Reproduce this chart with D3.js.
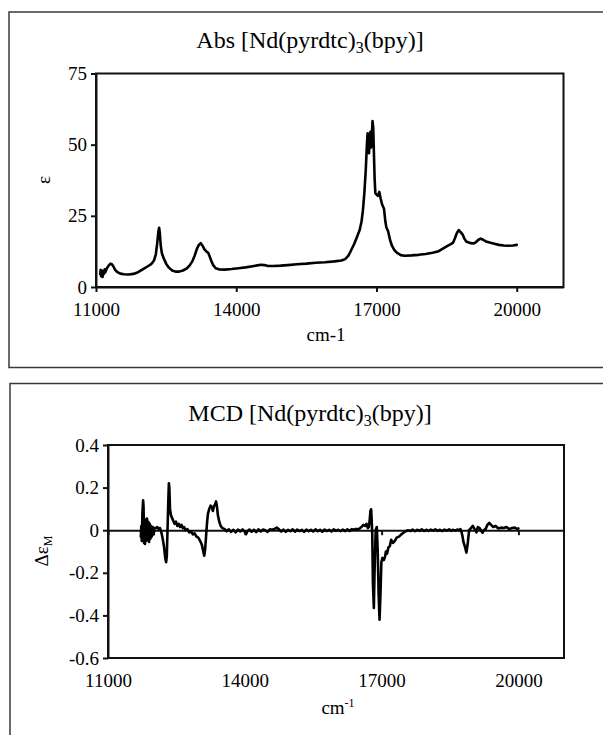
<!DOCTYPE html>
<html>
<head>
<meta charset="utf-8">
<script src="https://cdn.jsdelivr.net/npm/d3@7"></script>
<style>
  html, body { margin: 0; padding: 0; background: #fff; }
  svg { display: block; }
</style>
</head>
<body>
<svg id="chart" width="603" height="735"></svg>
<script>
// ---------- data ----------
const xTicks = [11000, 14000, 17000, 20000];
const absYTicks = [0, 25, 50, 75];
const mcdYTicks = [0.4, 0.2, 0, -0.2, -0.4, -0.6];

const absWn = [11090,11100,11110,11125,11140,11155,11170,11185,11200,11230,11270,11310,11340,11370,11410,11460,11520,11600,11700,11800,11900,12000,12100,12180,12240,12280,12310,12335,12350,12365,12385,12410,12450,12500,12560,12630,12700,12780,12860,12940,13000,13060,13110,13160,13200,13240,13280,13320,13360,13400,13430,13470,13510,13560,13630,13750,13900,14050,14200,14350,14450,14530,14600,14680,14800,14950,15100,15300,15500,15700,15900,16100,16250,16330,16400,16460,16520,16580,16640,16680,16710,16740,16770,16795,16810,16825,16840,16855,16870,16885,16900,16915,16930,16945,16960,16975,17000,17030,17060,17090,17120,17160,17190,17210,17250,17290,17330,17380,17440,17520,17600,17750,17900,18050,18200,18330,18420,18500,18580,18640,18680,18720,18760,18800,18840,18880,18920,18960,19020,19080,19130,19180,19230,19280,19340,19420,19520,19620,19720,19820,19920,20000];
const absEps = [4.5,6.0,3.8,5.8,3.5,5.5,4.6,6.2,5.2,6.5,7.5,8.2,8.0,7.3,6.0,5.2,4.7,4.5,4.4,4.6,5.2,6.2,7.2,8.0,9.3,11.5,15.5,19.5,20.8,19.0,14.5,11.8,10.0,8.2,6.8,5.8,5.4,5.4,5.8,6.5,7.5,9.0,11.0,13.5,14.8,15.4,14.5,13.2,12.5,12.0,10.8,9.0,7.6,6.6,6.2,6.1,6.3,6.6,6.9,7.3,7.6,7.8,7.7,7.4,7.4,7.5,7.7,8.0,8.2,8.5,8.7,9.0,9.3,9.8,11.0,13.0,15.0,17.5,20.0,23.0,27.0,33.0,41.0,50.0,54.0,50.0,47.0,52.0,54.5,49.0,53.0,58.3,56.0,47.0,38.0,33.0,32.5,32.0,33.4,31.0,29.0,27.5,23.0,21.0,19.5,16.5,14.5,13.0,12.0,11.2,11.0,11.1,11.3,11.6,12.0,12.6,13.5,14.3,15.0,15.6,17.2,19.0,20.0,19.3,18.5,17.0,16.0,15.7,15.4,15.3,15.8,16.6,17.0,16.6,16.0,15.6,15.2,14.8,14.6,14.5,14.6,14.8];

const mcdWn = [11720,11730,11740,11755,11770,11780,11790,11800,11810,11825,11840,11855,11870,11885,11900,11915,11930,11945,11960,11980,12000,12020,12050,12080,12110,12140,12170,12200,12230,12255,12275,12290,12305,12320,12335,12345,12360,12380,12400,12430,12460,12490,12520,12550,12580,12610,12640,12670,12700,12740,12780,12820,12860,12900,12940,12980,13020,13060,13090,13110,13130,13150,13170,13190,13220,13250,13275,13300,13320,13345,13370,13390,13410,13440,13470,13510,13560,13600,13650,13700,13750,13800,13850,13900,13950,14000,14030,14060,14100,14150,14200,14250,14300,14350,14400,14450,14500,14550,14600,14650,14700,14750,14800,14850,14900,14950,15000,15050,15100,15150,15200,15250,15300,15350,15400,15450,15500,15550,15600,15650,15700,15750,15800,15850,15900,15950,16000,16050,16100,16150,16200,16250,16300,16350,16400,16440,16480,16530,16560,16600,16640,16670,16700,16720,16740,16755,16770,16782,16795,16810,16830,16845,16870,16895,16915,16935,16955,16975,16995,17020,17050,17075,17095,17120,17150,17180,17210,17250,17290,17330,17380,17430,17480,17530,17580,17630,17680,17730,17780,17830,17880,17930,17980,18030,18080,18130,18180,18230,18280,18330,18380,18430,18480,18520,18560,18620,18660,18700,18730,18755,18775,18795,18830,18860,18890,18920,18960,19000,19040,19080,19110,19150,19190,19215,19240,19280,19320,19360,19400,19450,19500,19560,19620,19680,19740,19800,19860,19920,19980,20000];
const mcdDe = [-0.03,0.02,-0.05,0.08,0.14,0.11,-0.06,0.04,-0.065,0.05,-0.05,0.055,-0.04,0.04,-0.055,0.03,-0.04,0.02,-0.03,0.015,-0.02,0.01,0.01,0.015,0.005,0.01,-0.01,-0.04,-0.08,-0.13,-0.15,-0.12,0.0,0.12,0.22,0.2,0.1,0.07,0.06,0.045,0.03,0.04,0.02,0.03,0.015,0.025,0.01,0.015,0.0,0.005,-0.01,-0.005,-0.02,-0.015,-0.03,-0.035,-0.05,-0.07,-0.1,-0.12,-0.09,-0.03,0.03,0.075,0.1,0.115,0.11,0.09,0.11,0.12,0.135,0.11,0.07,0.04,0.02,0.01,0.005,-0.005,0.004,-0.008,0.002,-0.01,0.003,-0.006,0.004,-0.008,-0.018,-0.004,0.003,-0.007,0.002,-0.009,0.004,-0.006,0.003,0.0,-0.008,0.004,0.002,0.006,0.012,0.004,-0.006,0.003,-0.008,0.002,-0.005,0.004,-0.007,0.003,-0.004,0.002,-0.008,0.003,-0.005,0.002,-0.006,0.004,-0.005,0.002,-0.007,0.003,-0.004,0.002,-0.006,0.004,-0.003,0.002,-0.005,0.003,-0.004,0.004,-0.003,0.005,0.002,0.006,0.004,0.01,0.015,0.025,0.02,0.03,0.01,0.015,0.05,0.09,0.098,0.05,-0.02,-0.25,-0.365,-0.2,0.0,0.015,-0.1,-0.3,-0.42,-0.3,-0.15,-0.13,-0.14,-0.125,-0.1,-0.11,-0.08,-0.075,-0.045,-0.06,-0.05,-0.035,-0.03,-0.02,-0.012,-0.005,0.0,-0.004,0.003,-0.005,0.002,-0.003,0.004,-0.004,0.002,-0.003,0.003,-0.002,0.004,-0.003,0.002,-0.004,0.003,-0.002,0.004,-0.003,0.002,-0.002,0.003,0.0,0.005,-0.01,-0.03,-0.055,-0.08,-0.105,-0.06,0.0,0.01,0.02,0.005,-0.01,0.015,0.01,-0.005,-0.012,0.0,0.005,0.025,0.034,0.025,0.015,0.02,0.008,0.012,0.01,0.015,0.005,0.01,0.012,0.005,0.008,0.003,0.005,0.002,-0.005];

// ---------- drawing ----------
const SERIF = '"Liberation Serif", "Times New Roman", Times, serif';
const svg = d3.select("#chart").style("font-family", SERIF);
const FONT = 19;

function styleText(sel, size) {
  sel.style("font-family", SERIF).style("font-size", size + "px").attr("fill", "#000");
  return sel;
}

function outerBox(x, y, w, h) {
  svg.append("rect").attr("x", x).attr("y", y).attr("width", w).attr("height", h)
    .attr("fill", "none").attr("stroke", "#3a3a3a").attr("stroke-width", 1.5);
}

function styleAxis(a) {
  a.attr("font-family", SERIF);
  a.selectAll("path.domain").attr("stroke", "#111").attr("stroke-width", 2);
  a.selectAll("line").attr("stroke", "#111").attr("stroke-width", 2);
  styleText(a.selectAll("text"), FONT);
}

const fmtY = d => d === 0 ? "0" : d.toFixed(1);   // plain hyphen-minus as in reference

function title(txt, cx, baseY) {
  const t = styleText(svg.append("text"), 24).attr("x", cx).attr("y", baseY).attr("text-anchor", "middle");
  t.append("tspan").text(txt);
  t.append("tspan").text("3").style("font-size", "16px").attr("dy", 5);
  t.append("tspan").text("(bpy)]").attr("dy", -5);
}

// ===== Top chart: Abs =====
outerBox(9, 12, 640, 355.5);
{
  const x = d3.scaleLinear().domain([11000, 21000]).range([96, 563.5]);
  const y = d3.scaleLinear().domain([0, 75]).range([287, 73.5]);
  const g = svg.append("g");

  g.append("rect").attr("x", x.range()[0]).attr("y", y.range()[1])
    .attr("width", x.range()[1] - x.range()[0]).attr("height", y.range()[0] - y.range()[1])
    .attr("fill", "none").attr("stroke", "#111").attr("stroke-width", 2);

  const yAxis = g.append("g").attr("transform", `translate(${x.range()[0]},0)`)
    .call(d3.axisLeft(y).tickValues(absYTicks).tickSize(5).tickSizeOuter(0).tickPadding(4));
  const xAxis = g.append("g").attr("transform", `translate(0,${y.range()[0]})`)
    .call(d3.axisBottom(x).tickValues(xTicks).tickSize(5).tickSizeOuter(0).tickPadding(11).tickFormat(d3.format("d")));
  styleAxis(yAxis); styleAxis(xAxis);

  const pts = absWn.map((w, i) => [w, absEps[i]]);
  g.append("path").datum(pts)
    .attr("fill", "none").attr("stroke", "#000").attr("stroke-width", 2.6)
    .attr("stroke-linejoin", "round").attr("stroke-linecap", "round")
    .attr("d", d3.line().x(d => x(d[0])).y(d => y(d[1])));

  title("Abs [Nd(pyrdtc)", 310, 48);

  styleText(svg.append("text"), FONT).attr("x", 326).attr("y", 341).attr("text-anchor", "middle").text("cm-1");

  styleText(svg.append("text"), FONT).attr("transform", "translate(50,180) rotate(-90)")
    .attr("text-anchor", "middle").text("ε");
}

// ===== Bottom chart: MCD =====
outerBox(10, 383.5, 640, 400);
{
  const x = d3.scaleLinear().domain([11000, 21000]).range([108, 564]);
  const y = d3.scaleLinear().domain([-0.6, 0.4]).range([658, 445]);
  const g = svg.append("g");

  g.append("rect").attr("x", x.range()[0]).attr("y", y.range()[1])
    .attr("width", x.range()[1] - x.range()[0]).attr("height", y.range()[0] - y.range()[1])
    .attr("fill", "none").attr("stroke", "#111").attr("stroke-width", 2);

  const yAxis = g.append("g").attr("transform", `translate(${x.range()[0]},0)`)
    .call(d3.axisLeft(y).tickValues(mcdYTicks).tickSize(5).tickSizeOuter(0).tickPadding(4).tickFormat(fmtY));
  const xAxis0 = g.append("g").attr("transform", `translate(0,${y(0)})`)
    .call(d3.axisBottom(x).tickValues(xTicks).tickSize(5).tickSizeOuter(0).tickFormat(""));
  const xLab = g.append("g").attr("transform", `translate(0,${y.range()[0]})`)
    .call(d3.axisBottom(x).tickValues(xTicks).tickSize(0).tickPadding(16).tickFormat(d3.format("d")));
  xLab.selectAll("path.domain").remove();
  styleAxis(yAxis); styleAxis(xAxis0); styleAxis(xLab);

  const pts = mcdWn.map((w, i) => [w, mcdDe[i]]);
  g.append("path").datum(pts)
    .attr("fill", "none").attr("stroke", "#000").attr("stroke-width", 2.6)
    .attr("stroke-linejoin", "round").attr("stroke-linecap", "round")
    .attr("d", d3.line().x(d => x(d[0])).y(d => y(d[1])));

  title("MCD [Nd(pyrdtc)", 310, 421);

  const xl = styleText(svg.append("text"), FONT).attr("x", 338).attr("y", 714).attr("text-anchor", "middle");
  xl.append("tspan").text("cm");
  xl.append("tspan").text("-1").style("font-size", "12px").attr("dy", -7);

  const yl = styleText(svg.append("text"), FONT).attr("transform", "translate(48,551) rotate(-90)")
    .attr("text-anchor", "middle");
  yl.append("tspan").text("Δε");
  yl.append("tspan").text("M").style("font-size", "12px").attr("dy", 4);
}
</script>
</body>
</html>
